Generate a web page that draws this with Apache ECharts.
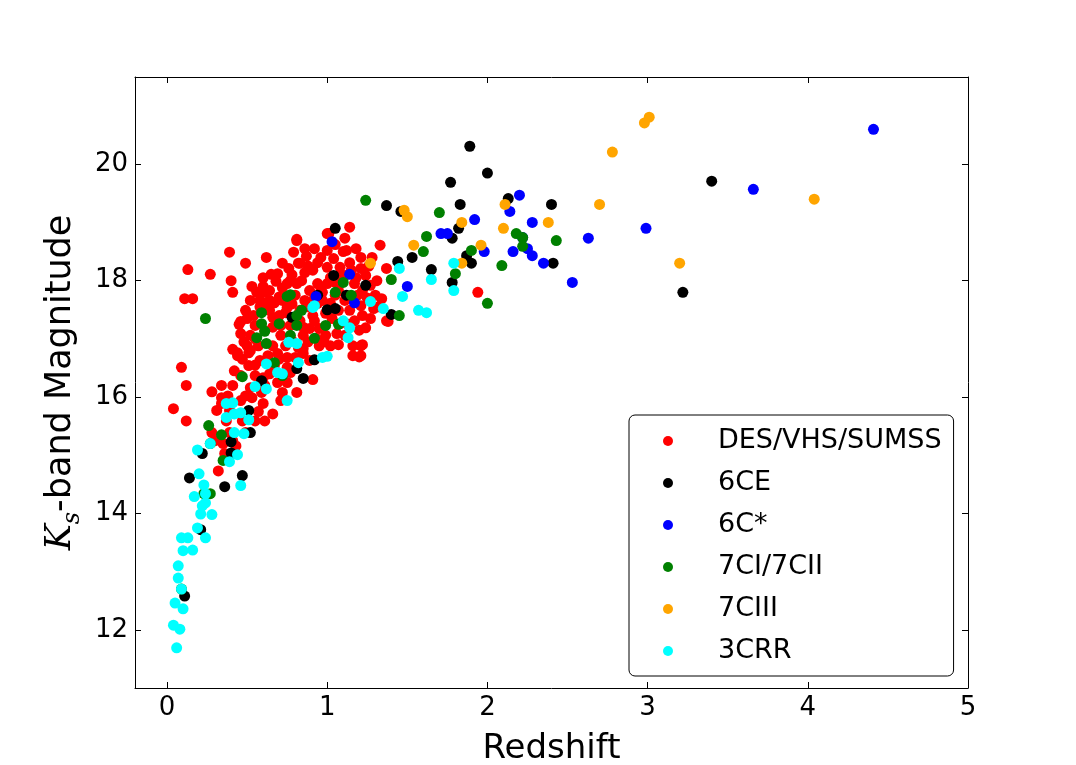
<!DOCTYPE html>
<html>
<head>
<meta charset="utf-8">
<script src="https://cdn.jsdelivr.net/npm/echarts@6/dist/echarts.min.js"></script>
<style>html,body{margin:0;padding:0;background:#fff}#c{width:1076px;height:765px}</style>
</head>
<body>
<div id="c"></div>
<script>
// [redshift, Ks magnitude]
const desVhsSumss = [
[0.81,18.71],[0.39,18.49],[0.49,18.30],[0.62,18.40],[0.79,18.49],[0.82,18.30],[0.13,18.19],[0.27,18.11],[0.40,18.00],[0.41,17.80],
[0.53,17.90],[0.60,17.90],[0.65,18.11],[0.69,18.12],[0.68,17.99],[0.76,18.21],[0.11,17.69],[0.16,17.69],[0.46,17.30],[0.46,17.09],
[0.54,17.40],[0.41,16.82],[0.44,16.71],[0.50,16.88],[0.52,16.80],[0.09,16.51],[0.58,16.63],[0.67,17.62],[0.64,17.49],[0.75,17.95],
[0.75,17.54],[0.81,17.95],[1.14,18.92],[1.11,18.73],[1.00,18.81],[0.81,18.69],[0.87,18.42],[0.96,18.40],[1.00,18.52],[1.12,18.52],
[1.21,18.40],[1.33,18.61],[1.37,18.21],[1.31,18.00],[1.21,18.21],[1.08,18.23],[1.00,18.23],[0.91,18.18],[0.83,18.30],[0.84,18.00],
[0.94,17.95],[1.22,17.83],[1.30,17.75],[1.34,17.69],[1.29,17.52],[1.37,17.31],[1.24,17.19],[1.17,17.31],[1.08,17.26],[1.06,17.09],
[1.21,16.88],[1.07,16.90],[0.95,16.88],[0.85,17.06],[0.85,16.83],[1.16,16.71],[1.21,16.71],[0.71,17.06],[0.69,16.75],[0.75,16.51],
[0.64,17.66],[0.66,17.37],[0.72,17.88],[0.94,17.61],[1.02,17.61],[0.77,18.00],[0.12,16.20],[0.04,15.80],[0.12,15.59],[0.28,16.09],
[0.34,16.20],[0.41,16.20],[0.44,16.76],[0.51,16.76],[0.75,16.68],[0.85,16.75],[0.60,16.33],[0.52,16.16],[0.53,15.99],[0.60,15.89],
[0.71,15.94],[0.72,16.08],[0.81,16.08],[0.91,16.30],[0.75,16.25],[0.66,15.71],[0.57,15.75],[0.34,15.99],[0.34,15.89],[0.37,15.59],
[0.28,15.39],[0.35,15.20],[0.43,15.16],[0.36,15.03],[0.42,15.03],[0.32,14.73],[0.39,15.39],[0.89,17.83],[0.97,17.80],[1.05,17.97],
[1.11,18.09],[1.17,17.95],[1.24,18.09],[1.14,18.31],[1.04,18.38],[0.94,18.31],[0.86,18.14],[0.80,17.75],[0.86,17.66],[0.91,17.40],
[0.99,17.44],[1.07,17.49],[1.14,17.49],[1.21,17.57],[1.11,17.66],[1.05,17.75],[0.97,17.66],[0.83,17.31],[0.89,17.18],[0.99,17.06],
[0.77,17.23],[0.74,16.88],[0.80,16.68],[0.89,16.63],[0.66,16.88],[0.61,17.14],[0.55,17.23],[0.52,17.06],[0.67,16.54],[0.61,16.20],
[0.77,16.42],[0.55,16.37],[0.49,16.02],[0.46,16.37],[0.42,16.45],[0.57,16.88],[0.63,16.71],[0.49,17.49],[0.58,17.66],[0.61,17.80],
[0.52,17.66],[0.83,17.49],[0.92,17.31],[1.02,16.88],[1.11,17.06],[1.16,16.88],[1.22,17.40],[1.27,17.92],[1.19,17.75],[1.07,17.83],
[0.72,17.66],[0.78,16.97],[0.71,17.23],[0.64,17.83],[0.93,17.01],[0.51,16.54],[0.59,16.08],[0.69,16.25],[0.46,15.94],[0.39,15.77],
[0.47,15.59],[0.41,15.25],[0.30,15.25],[0.49,15.39],[0.61,15.59],[0.55,15.59],[0.31,15.77],[0.38,16.02],[1.94,17.80],[1.22,16.90],
[1.38,17.30],[1.01,18.81],[1.10,18.50],[1.20,16.69],
[0.58,17.55],[0.62,17.60],[0.70,17.72],[0.74,17.45],[0.78,17.60],[0.88,17.55],[0.92,17.70],[0.96,17.88],[1.00,17.95],[1.02,18.05],
[1.08,18.10],[1.15,18.18],[1.18,18.05],[1.26,18.25],[1.28,18.40],[1.18,18.55],[1.05,18.62],[0.92,18.55],[0.88,18.25],[0.78,18.10],
[0.70,17.40],[0.66,17.20],[0.85,17.20],[0.95,17.18],[1.03,17.35],[1.13,17.25],[1.20,17.15],[1.27,17.35],[1.32,17.55],[0.55,17.00],
[0.48,16.95],[0.47,16.65],[0.55,16.55],[0.64,16.40],[0.70,16.65],[0.82,16.85],[0.88,16.95],[0.98,16.95],[0.45,17.25],[0.50,17.35],
[0.56,17.80],[0.60,18.05],[0.72,18.30],[0.86,18.55],[1.25,17.70]
];
const sixCE = [
[1.05,18.90],[1.04,18.09],[1.24,17.92],[1.12,17.75],[0.94,17.75],[1.00,17.50],[1.05,17.52],[1.40,17.42],[0.78,17.37],[0.92,16.64],
[0.81,16.49],[0.85,16.32],[0.59,16.28],[0.51,15.77],[0.52,15.39],[0.40,15.23],[0.40,15.04],[0.22,15.03],[0.14,14.61],[0.36,14.46],
[0.47,14.65],[0.21,13.72],[0.11,12.58],[1.37,19.29],[1.46,19.19],[1.77,19.69],[1.83,19.31],[1.82,18.90],[1.78,18.73],[1.44,18.33],
[1.53,18.40],[1.65,18.19],[1.78,17.97],[1.90,18.30],[1.87,18.43],[1.89,20.31],[2.00,19.85],[2.13,19.41],[2.40,19.31],[2.41,18.30],
[3.40,19.71],[3.22,17.80]
];
const sixCStar = [
[1.03,18.67],[1.14,18.11],[0.93,17.73],[1.17,17.62],[1.50,17.90],[1.71,18.81],[1.75,18.81],[1.92,19.05],[1.98,18.50],[2.14,19.19],
[2.20,19.47],[2.22,18.74],[2.28,19.00],[2.16,18.50],[2.25,18.55],[2.28,18.43],[2.35,18.30],[2.53,17.97],[2.63,18.73],[2.99,18.90],
[3.66,19.57],[4.41,20.60]
];
const sevenCI_II = [
[0.24,17.35],[0.75,17.73],[0.77,17.76],[0.59,17.45],[0.59,17.26],[0.61,17.13],[0.56,17.02],[0.70,17.26],[0.81,17.40],[0.81,17.23],
[0.62,16.92],[0.84,17.49],[0.92,17.01],[0.77,17.06],[1.10,17.97],[1.05,17.80],[1.15,17.75],[0.99,17.23],[1.07,17.25],[1.40,18.02],
[1.45,17.40],[0.47,16.35],[0.67,16.59],[0.72,16.37],[0.26,15.51],[0.34,15.35],[0.27,15.20],[0.35,14.91],[0.23,14.34],[0.27,14.34],
[0.09,12.70],[1.24,19.38],[1.70,19.17],[1.62,18.76],[1.60,18.50],[1.80,18.12],[1.90,18.52],[2.09,18.26],[2.00,17.61],[2.18,18.81],
[2.22,18.74],[2.22,18.59],[2.43,18.69]
];
const sevenCIII = [
[1.48,19.21],[1.50,19.10],[1.54,18.61],[1.27,18.30],[1.84,19.00],[1.96,18.61],[1.84,18.30],[2.10,18.90],[2.11,19.31],[2.38,19.00],
[2.70,19.31],[2.78,20.21],[2.98,20.71],[3.01,20.81],[3.20,18.30],[4.04,19.40]
];
const threeCRR = [
[0.06,11.69],[0.04,12.08],[0.08,12.01],[0.05,12.46],[0.10,12.36],[0.09,12.70],[0.07,12.89],[0.07,13.10],[0.10,13.36],[0.16,13.37],
[0.09,13.58],[0.13,13.58],[0.24,13.58],[0.19,13.75],[0.21,13.99],[0.28,13.98],[0.22,14.13],[0.24,14.18],[0.17,14.29],[0.24,14.34],
[0.23,14.49],[0.20,14.68],[0.19,15.09],[0.27,15.20],[0.39,14.89],[0.44,15.01],[0.46,14.48],[0.37,15.65],[0.42,15.71],[0.46,15.73],
[0.51,15.61],[0.42,15.39],[0.48,15.37],[0.37,15.89],[0.41,15.90],[0.75,15.94],[0.55,16.18],[0.62,16.14],[0.62,16.57],[0.69,16.42],
[0.72,16.40],[0.82,16.59],[0.97,16.68],[1.00,16.70],[0.76,16.94],[0.81,16.92],[0.91,17.54],[0.92,17.57],[1.10,17.31],[1.14,17.19],
[1.13,17.02],[1.27,17.64],[1.35,17.52],[1.45,18.21],[1.47,17.73],[1.57,17.49],[1.62,17.45],[1.65,18.02],[1.79,18.30],[1.79,17.83]
];
const seriesNames = ['DES/VHS/SUMSS','6CE','6C*','7CI/7CII','7CIII','3CRR'];
const seriesData = [desVhsSumss, sixCE, sixCStar, sevenCI_II, sevenCIII, threeCRR];
const seriesColors = ['#ff0000','#000000','#0000ff','#008000','#ffa500','#00ffff'];
const xTicks = [0,1,2,3,4,5];
const yTicks = [12,14,16,18,20];

const FONT = 'DejaVu Sans';
const SERIF = 'DejaVu Serif';
const chart = echarts.init(document.getElementById('c'), null, {renderer:'canvas'});
const axisLineStyle = {show:true, onZero:false, lineStyle:{color:'#000', width:1}};
function xAx(pos, showLabel){
  return {
    type:'value', position:pos, min:-0.2, max:5,
    axisLine: axisLineStyle,
    axisTick:{show:true, inside:true, length:6, lineStyle:{color:'#000'}, customValues:xTicks},
    axisLabel:{show:showLabel, customValues:xTicks, fontFamily:FONT, fontSize:26, color:'#000', margin:7},
    splitLine:{show:false},
    name: showLabel ? 'Redshift' : '', nameLocation:'middle', nameGap:44, nameMoveOverlap:false,
    nameTextStyle:{fontFamily:FONT, fontSize:34, color:'#000'}
  };
}
function yAx(pos, showLabel){
  return {
    type:'value', position:pos, min:11, max:21.5,
    axisLine: axisLineStyle,
    axisTick:{show:true, inside:true, length:6, lineStyle:{color:'#000'}, customValues:yTicks},
    axisLabel:{show:showLabel, customValues:yTicks, fontFamily:FONT, fontSize:26, color:'#000', margin:7},
    splitLine:{show:false},
    name: showLabel ? '{k|K}{s|s}{t|-band Magnitude}' : '', nameLocation:'middle', nameGap:50, nameRotate:90,
    nameMoveOverlap:false,
    nameTextStyle:{fontFamily:FONT, color:'#000', rich:{
      k:{fontFamily:SERIF, fontSize:35, fontStyle:'italic', color:'#000', lineHeight:48},
      s:{fontFamily:SERIF, fontSize:24, fontStyle:'italic', color:'#000', lineHeight:24, verticalAlign:'bottom'},
      t:{fontFamily:FONT, fontSize:35, color:'#000', lineHeight:48}
    }}
  };
}
const option = {
  backgroundColor:'#fff',
  animation:false,
  grid:{left:135, right:108, top:77, bottom:77, containLabel:false, outerBoundsMode:'none'},
  xAxis:[xAx('bottom', true), xAx('top', false)],
  yAxis:[yAx('left', true), yAx('right', false)],
  legend:{
    orient:'vertical', left:629, top:415,
    data: seriesNames,
    icon:'circle', itemWidth:10, itemHeight:10, itemGap:14,
    padding:[12, 12, 11, 34],
    backgroundColor:'#fff', borderColor:'#000', borderWidth:1, borderRadius:6,
    textStyle:{fontFamily:FONT, fontSize:27, color:'#000', lineHeight:28, padding:[0,0,0,40]}
  },
  series: seriesNames.map((n,i)=>({
    name:n, type:'scatter', xAxisIndex:0, yAxisIndex:0,
    data: seriesData[i], symbol:'circle', symbolSize:11,
    itemStyle:{color:seriesColors[i], opacity:1},
    emphasis:{disabled:true}
  }))
};
chart.setOption(option);
</script>
</body>
</html>
